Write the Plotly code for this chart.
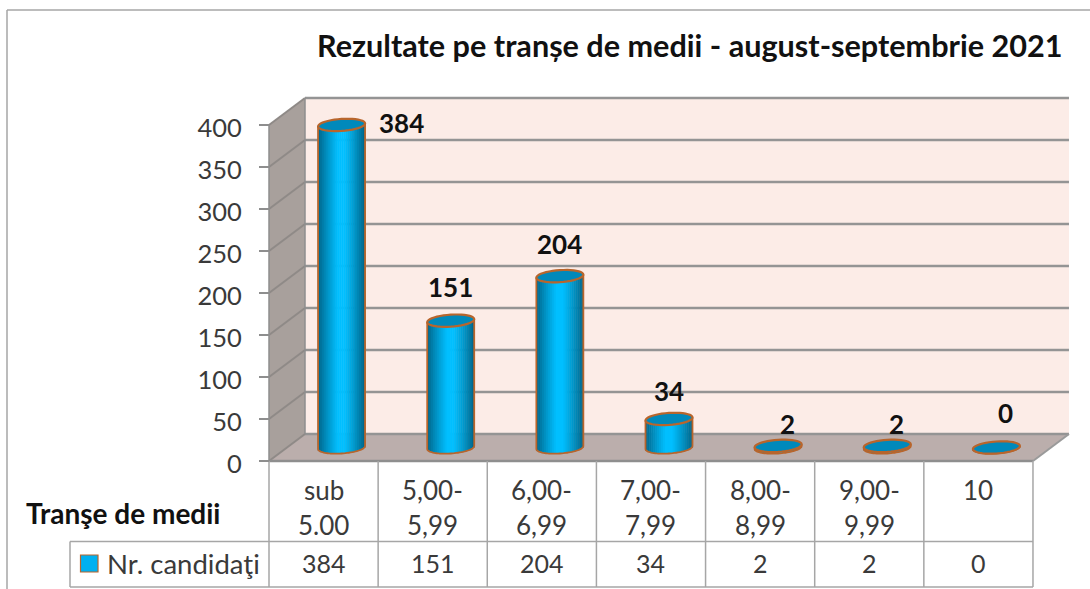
import math
import plotly.graph_objects as go

# ---- data ----
categories = [["sub", "5.00"], ["5,00-", "5,99"], ["6,00-", "6,99"], ["7,00-", "7,99"],
              ["8,00-", "8,99"], ["9,00-", "9,99"], ["10"]]
values = [384, 151, 204, 34, 2, 2, 0]
y_ticks = [0, 50, 100, 150, 200, 250, 300, 350, 400]
series_name = "Nr. candidaţi"
axis_title = "Tranşe de medii"
title = "Rezultate pe tranșe de medii - august-septembrie 2021"
# label offsets from the cylinder top (px)
label_dx = [60, 0, 0, 0, 9, 9, 9]
label_dy = [2, 34, 32, 28, 22, 22, 35]

# ---- layout constants ----
W, H = 1090, 589
X0, XU = 269.0, 109.14      # px of category 0 / px per category
Y0, YU = 461.0, 0.84        # px of value 0 / px per unit
DX, DY = 36.0, 27.0         # depth offset, px
FONT = "Lato"
TXT = "#3a3a3a"
ORANGE = "#b8652c"
GRID = "#949494"
TBL = "#a6a6a6"

ux = lambda px: px / XU
uy = lambda px: px / YU
fx = lambda px: (px - X0) / XU      # page px -> x data
fy = lambda py: (Y0 - py) / YU      # page px -> y data

shapes, annos = [], []

def poly(pts, fill, line=None, width=0, layer="below"):
    path = "M " + " L ".join(f"{a:.4f},{b:.4f}" for a, b in pts) + " Z"
    shapes.append(dict(type="path", path=path, fillcolor=fill, layer=layer,
                       line=dict(color=line or fill, width=width)))

def seg(x0, y0, x1, y1, color, width, layer="below"):
    shapes.append(dict(type="line", x0=x0, y0=y0, x1=x1, y1=y1, layer=layer,
                       line=dict(color=color, width=width)))

def text(x, y, s, size, bold=False, color=TXT, anchor="center"):
    annos.append(dict(x=x, y=y, text=f"<b>{s}</b>" if bold else s, showarrow=False,
                      xanchor=anchor, yanchor="middle",
                      font=dict(family=FONT, size=size, color=color)))

n = len(categories)
d_x, d_y = ux(DX), uy(DY)
top_v = max(y_ticks)

# walls
poly([(0, 0), (d_x, d_y), (d_x, top_v + d_y), (0, top_v)], "#a8a09c")
poly([(d_x, d_y), (n + d_x, d_y), (n + d_x, top_v + d_y), (d_x, top_v + d_y)], "#fcece7")
poly([(0, 0), (n, 0), (n + d_x, d_y), (d_x, d_y)], "#bbaeac")
# gridlines
for v in y_ticks:
    seg(d_x, v + d_y, n + d_x, v + d_y, GRID, 2.5)
    seg(0, v, d_x, v + d_y, "#8f8a87", 2)
seg(0, 0, 0, top_v, "#8e8e8e", 1.5)
seg(d_x, d_y, d_x, top_v + d_y, "#8e8e8e", 1.5)
seg(0, 0, n, 0, "#8e8e8e", 2.5)
seg(n, 0, n + d_x, d_y, "#9a9a9a", 2)

# ---- cylinders ----
A, B, TILT = 23.5, 6.0, 1.5           # half width, half height, px rise at the right side
centers = [i + 0.5 + d_x / 2 for i in range(n)]
base_v = d_y / 2
STRIPS = 24

def mix(t):
    t = max(0.0, (abs(t) - 0.12) / 0.88)
    c0, c1 = (0, 191, 255), (0, 100, 136)
    return "rgb(%d,%d,%d)" % tuple(round(a + (b - a) * t ** 1.15) for a, b in zip(c0, c1))

traces = []
for k in range(STRIPS):
    u = -1 + (k + 0.5) * 2 / STRIPS
    xs = [c + ux(u * A) for c in centers]
    lows = [base_v + uy(-B * math.sqrt(1 - u * u) + TILT * u) for _ in values]
    tops = [base_v + v + uy(TILT * u) for v in values]
    heights = [max(t - l, 0) for t, l in zip(tops, lows)]
    traces.append(go.Bar(x=xs, y=heights, base=lows, width=ux(2 * A / STRIPS * 1.25),
                         marker=dict(color=mix(u), line=dict(width=0)),
                         hoverinfo="skip", showlegend=False))

def arc(cx, v, t0, t1, steps=40):
    pts = []
    for j in range(steps + 1):
        t = t0 + (t1 - t0) * j / steps
        c, s = math.cos(t), math.sin(t)
        pts.append((cx + ux(A * c), base_v + v + uy(B * s + TILT * c)))
    return pts

for c, v in zip(centers, values):
    # lower outline and sides
    low = arc(c, 0, math.pi, 2 * math.pi)
    outline = [(c - ux(A), base_v + v - uy(TILT))] + low + [(c + ux(A), base_v + v + uy(TILT))]
    path = "M " + " L ".join(f"{a:.4f},{b:.4f}" for a, b in outline)
    shapes.append(dict(type="path", path=path, layer="above", line=dict(color=ORANGE, width=1.8)))
    # top disc
    poly(arc(c, v, 0, 2 * math.pi), "#0089bb", ORANGE, 2.2, layer="above")

# value labels
for c, v, dx, dy in zip(centers, values, label_dx, label_dy):
    text(c + ux(dx), base_v + v + uy(dy), str(v), 26, bold=True, color="#111111")

# ---- data table below the plot ----
ROW1, ROW2 = 541.5, 587.0
for i in range(n + 1):
    seg(i, 0, i, fy(ROW2), TBL, 1.5)
seg(fx(70), fy(ROW1), n, fy(ROW1), TBL, 1.5)
seg(fx(70), fy(ROW2), n, fy(ROW2), TBL, 1.5)
seg(fx(70), fy(ROW1), fx(70), fy(ROW2), TBL, 1.5)
for i, (lines, v) in enumerate(zip(categories, values)):
    for j, s in enumerate(lines):
        text(i + 0.5, fy(490 + 35 * j), s, 26)
    text(i + 0.5, fy(562.5), str(v), 25)
shapes.append(dict(type="rect", x0=fx(80.5), x1=fx(98), y0=fy(555), y1=fy(572), layer="below",
                   fillcolor="#00b0f0", line=dict(color=ORANGE, width=1.2)))
text(fx(105), fy(563), series_name, 27.5, anchor="left")
text(fx(24), fy(513), axis_title, 28, bold=True, color="#111111", anchor="left")
text(fx(315), fy(45), title, 30.6, bold=True, color="#111111", anchor="left")

# frame
seg(fx(7), fy(10), fx(1090), fy(10), TBL, 1.5)
seg(fx(7), fy(10), fx(7), fy(589), TBL, 1.5)

fig = go.Figure(traces)
fig.update_layout(
    width=W, height=H, margin=dict(l=0, r=0, t=0, b=0, pad=0),
    paper_bgcolor="white", plot_bgcolor="white", barmode="overlay", showlegend=False,
    shapes=shapes, annotations=annos,
    xaxis=dict(range=[fx(0), fx(W)], visible=False, fixedrange=True),
    yaxis=dict(range=[fy(H), fy(0)], tickvals=y_ticks, ticktext=[str(t) for t in y_ticks],
               anchor="free", position=X0 / W, side="left", ticks="outside", ticklen=10,
               tickwidth=1.5, tickcolor="#8e8e8e", showgrid=False, zeroline=False, showline=False,
               ticklabelstandoff=12, ticklabelshift=3,
               tickfont=dict(family=FONT, size=25.5, color=TXT), fixedrange=True),
)
fig.write_html("out.html", config={"displayModeBar": False},
               post_script="document.body.style.margin='0';document.body.style.overflow='hidden';")
